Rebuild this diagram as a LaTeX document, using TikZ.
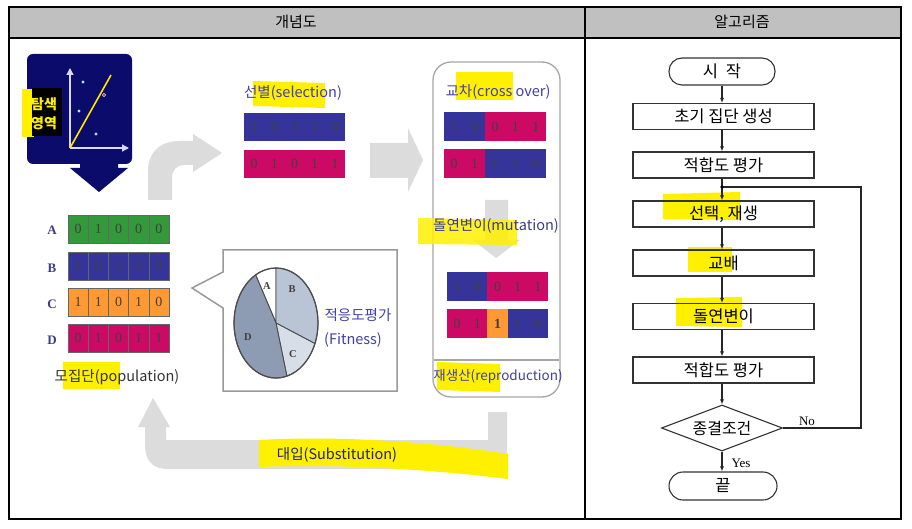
\documentclass[tikz,border=0pt]{standalone}
\usepackage{fontspec}
\setmainfont{Liberation Serif}
\newfontfamily\kr{Noto Sans CJK KR}
\usetikzlibrary{shapes.geometric,arrows.meta}
\definecolor{navy}{HTML}{0B0B6B}
\definecolor{barblue}{HTML}{34349A}
\definecolor{barpink}{HTML}{CC0A66}
\definecolor{bargreen}{HTML}{33993A}
\definecolor{barorange}{HTML}{FF9933}
\definecolor{agray}{HTML}{DCDCDC}
\definecolor{hl}{HTML}{FFF000}
\definecolor{txtblue}{HTML}{4040A8}
\definecolor{headgray}{HTML}{C0C0C0}
\definecolor{pieB}{HTML}{B9C4D4}
\definecolor{pieC}{HTML}{D8DEE7}
\definecolor{pieD}{HTML}{8D9BB3}
\tikzset{
  hdr/.style={font=\kr\fontsize{15}{17}\selectfont, inner sep=0pt},
  lbl/.style={font=\kr\fontsize{14.5}{16}\selectfont, inner sep=0pt},
  digit/.style={font=\fontsize{14}{15}\selectfont, text=black!75, inner sep=0pt},
  poplbl/.style={font=\bfseries\fontsize{13}{14}\selectfont, text=navy!80, inner sep=0pt},
  pielbl/.style={font=\bfseries\fontsize{10.5}{12}\selectfont, text=black!75, inner sep=0pt},
  fbox/.style={draw=black!80, line width=1.1pt, minimum width=181pt, minimum height=26pt, inner sep=0pt, font=\kr\fontsize{16.5}{18}\selectfont},
  fterm/.style={fbox, minimum width=106pt, minimum height=27pt, rounded corners=13pt},
  fdia/.style={draw=black!80, line width=1.1pt, diamond, aspect=2.6, minimum width=121pt, minimum height=46pt, inner sep=0pt, font=\kr\fontsize{16}{18}\selectfont},
  flow/.style={draw=black!85, line width=1.1pt, -{Latex[length=5pt,width=4pt]}},
  ga/.style={fill=agray, draw=none},
}
\newcommand\cellrow[6]{%
  \foreach \c/\d [count=\i from 0] in {#6} {%
    \path[fill=\c, #5] (#1+\i*#3, #2) rectangle ++(#3,#4);
    \node[digit] (#1-#2-\i) at (#1+\i*#3+#3/2, #2+#4/2) {\d};
  }}
\begin{document}
\begin{tikzpicture}[x=1pt,y=-1pt]
\useasboundingbox (0,0) rectangle (912,529);
\fill[white] (0,0) rectangle (912,529);
% table
\fill[headgray] (9,7) rectangle (901,38);
\draw[line width=1.3pt] (9,7) rectangle (901,519);
\draw[line width=1.3pt] (9,38) -- (901,38);
\draw[line width=1.3pt] (585,7) -- (585,519);
\node[hdr] (h1) at (296,22) {개념도};
\node[hdr] (h2) at (742,22) {알고리즘};

% ---- search area
\fill[navy, rounded corners=6pt] (27,54) rectangle (132,164);
\fill[navy] (80,160) -- (118,160) -- (118,168) -- (128,168) -- (99,192) -- (70,168) -- (80,168) -- cycle;
\draw[white!85!blue, line width=1.3pt, -{Triangle[length=7pt,width=7pt]}] (70,148) -- (70,68);
\draw[white!85!blue, line width=1.3pt, -{Triangle[length=7pt,width=7pt]}] (70,148) -- (129,148);
\draw[yellow!90!orange, line width=1.6pt] (70,148) -- (111,75);
\fill[cyan!30] (83,82) circle (1.6pt);
\fill[cyan!30] (79,111) circle (1.6pt);
\fill[cyan!30] (96,134) circle (1.6pt);
\draw[pink, line width=0.6pt] (104,95) circle (1.6pt);
\fill[hl] (22,89) rectangle (34,137);
\fill[black] (32,88) rectangle (62,136);
\node[font=\kr\bfseries\fontsize{14}{15}\selectfont, text=hl, inner sep=0pt] (tam) at (44,104) {탐색};
\node[font=\kr\bfseries\fontsize{14}{15}\selectfont, text=hl, inner sep=0pt] (yeong) at (44,123) {영역};

% ---- curved arrow
\path[ga] (148,200) -- (148,172) .. controls (148,152) and (160,141) .. (180,141) -- (193,141) -- (193,134) -- (222,153) -- (193,172) -- (193,165) -- (184,165) .. controls (177,165) and (172,170) .. (172,178) -- (172,200) -- cycle;
% ---- right arrow
\path[ga] (370,143) -- (408,143) -- (408,128) -- (423,160) -- (408,192) -- (408,178) -- (370,178) -- cycle;

% ---- selection
\fill[hl] (253,81) -- (325,83) -- (325,108) -- (253,106) -- cycle;
\node[lbl, text=txtblue] (sel) at (293,93) {선별(selection)};
\cellrow{244}{113}{20.2}{28}{}{barblue/1,barblue/0,barblue/1,barblue/1,barblue/0}
\cellrow{244}{150}{20.2}{28}{}{barpink/0,barpink/1,barpink/0,barpink/1,barpink/1}

% ---- crossover box
\draw[black!35, line width=1.3pt, rounded corners=18pt] (433,62) rectangle (560,397);
\draw[black!35, line width=1.1pt] (434,360) -- (559,360);
\fill[hl] (456,72) rectangle (513,100);
\node[lbl, text=txtblue] (cro) at (498,92) {교차(cross over)};
\cellrow{444}{112}{20.4}{29}{}{barblue/1,barblue/0,barpink/0,barpink/1,barpink/1}
\cellrow{444}{149}{20.4}{29}{}{barpink/0,barpink/1,barblue/1,barblue/1,barblue/0}
\path[ga] (485,200) -- (508,200) -- (508,240) -- (520,240) -- (496,258) -- (473,240) -- (485,240) -- cycle;
\fill[hl, opacity=0.85] (418,218) -- (517,220) -- (517,245) -- (418,244) -- cycle;
\node[lbl, text=navy!80] (mut) at (496,226) {돌연변이(mutation)};
\cellrow{447}{272}{20.2}{29}{}{barblue/1,barblue/0,barpink/0,barpink/1,barpink/1}
\cellrow{447}{309}{20.2}{29}{}{barpink/0,barpink/1,barorange/{\textbf{1}},barblue/1,barblue/0}
\fill[hl] (437,362) -- (500,364) -- (500,392) -- (437,390) -- cycle;
\node[lbl, text=txtblue, font=\kr\fontsize{13.5}{15}\selectfont] (rep) at (498,376) {재생산(reproduction)};

% ---- population
\node[poplbl] (pA) at (52,230) {A};
\node[poplbl] (pB) at (52,268) {B};
\node[poplbl] (pC) at (52,304) {C};
\node[poplbl] (pD) at (52,340) {D};
\cellrow{68}{215}{20.2}{28}{draw=black!60}{bargreen/0,bargreen/1,bargreen/0,bargreen/0,bargreen/0}
\cellrow{68}{252}{20.2}{28}{draw=black!60}{barblue/1,barblue/0,barblue/1,barblue/1,barblue/0}
\cellrow{68}{288}{20.2}{28}{draw=black!60}{barorange/1,barorange/1,barorange/0,barorange/1,barorange/0}
\cellrow{68}{324}{20.2}{28}{draw=black!60}{barpink/0,barpink/1,barpink/0,barpink/1,barpink/1}
\fill[hl] (63,362) rectangle (120,389);
\node[lbl, text=black!80] (pop) at (117,377) {모집단(population)};

% ---- callout with pie
\draw[black!40, line width=1.5pt, fill=white] (223,250) -- (397,250) -- (397,391) -- (223,391) -- (223,308) -- (192,288) -- (223,272) -- cycle;
\begin{scope}[shift={(276,323)}, x=1pt, y=1pt]
  \filldraw[fill=white, draw=black!70, line width=0.9pt] (0,0) -- (90:42pt and 55pt) arc[start angle=90, end angle=119, x radius=42pt, y radius=55pt] -- cycle;
  \filldraw[fill=pieB, draw=black!70, line width=0.9pt] (0,0) -- (-22:42pt and 55pt) arc[start angle=-22, end angle=90, x radius=42pt, y radius=55pt] -- cycle;
  \filldraw[fill=pieC, draw=black!70, line width=0.9pt] (0,0) -- (-75:42pt and 55pt) arc[start angle=-75, end angle=-22, x radius=42pt, y radius=55pt] -- cycle;
  \filldraw[fill=pieD, draw=black!70, line width=0.9pt] (0,0) -- (119:42pt and 55pt) arc[start angle=119, end angle=285, x radius=42pt, y radius=55pt] -- cycle;
  \draw[black!70, line width=1.2pt] (0,0) ellipse (42pt and 55pt);
\end{scope}
\node[pielbl] (sA) at (267,286) {A};
\node[pielbl] (sB) at (292,289) {B};
\node[pielbl] (sC) at (293,354) {C};
\node[pielbl] (sD) at (248,337) {D};
\node[lbl, text=txtblue] (fit1) at (358,315) {적응도평가};
\node[lbl, text=txtblue] (fit2) at (353,340) {(Fitness)};

% ---- substitution arrow
\path[ga] (507,412) -- (507,469) -- (168,469) .. controls (152,469) and (145,460) .. (145,445) -- (145,427) -- (138,427) -- (153,398) -- (170,427) -- (166,427) -- (166,440) -- (488,440) -- (488,412) -- cycle;
\fill[hl] (259,440) .. controls (330,436) and (420,440) .. (508,454) -- (508,479) .. controls (420,468) and (330,464) .. (259,467) -- cycle;
\node[lbl, text=navy!90] (sub) at (337,455) {대입(Substitution)};

% ---- flowchart
\fill[hl] (663,194) -- (740,192) -- (740,220) -- (663,219) -- cycle;
\fill[hl] (688,247) rectangle (732,272);
\fill[hl] (676,298) -- (742,297) -- (742,327) -- (676,326) -- cycle;
\node[fterm] (fs) at (722,71.5) {시\hspace{8pt}작};
\node[fbox] (f1) at (723.5,116.5) {초기 집단 생성};
\node[fbox] (f2) at (723.5,165) {적합도 평가};
\node[fbox] (f3) at (723.5,214) {선택, 재생};
\node[fbox] (f4) at (723.5,263) {교배};
\node[fbox] (f5) at (723.5,316.5) {돌연변이};
\node[fbox] (f6) at (723.5,370) {적합도 평가};
\node[fdia] (fc) at (722,428) {종결조건};
\node[fterm, minimum width=108pt, minimum height=28pt, rounded corners=14pt] (fe) at (723,486) {끝};
\coordinate (j) at (722,187);
\coordinate (rr) at (861,428);
\draw[flow] (fs.south -| j) -- (f1.north -| j);
\draw[flow] (f1.south -| j) -- (f2.north -| j);
\draw[flow] (f2.south -| j) -- (f3.north -| j);
\draw[flow] (f3.south -| j) -- (f4.north -| j);
\draw[flow] (f4.south -| j) -- (f5.north -| j);
\draw[flow] (f5.south -| j) -- (f6.north -| j);
\draw[flow] (f6.south -| j) -- (fc.north);
\draw[flow] (fc.south) -- (fe.north -| fc.south);
\draw[black!85, line width=1.1pt] (fc.east) -- (rr) -- (rr |- j) -- (j);
\fill[black] (j) circle (1.8pt);
\node[font=\fontsize{13}{14}\selectfont, inner sep=0pt] (no) at (807,421) {No};
\node[font=\fontsize{13}{14}\selectfont, inner sep=0pt] (yes) at (741,463) {Yes};
\end{tikzpicture}
\end{document}
